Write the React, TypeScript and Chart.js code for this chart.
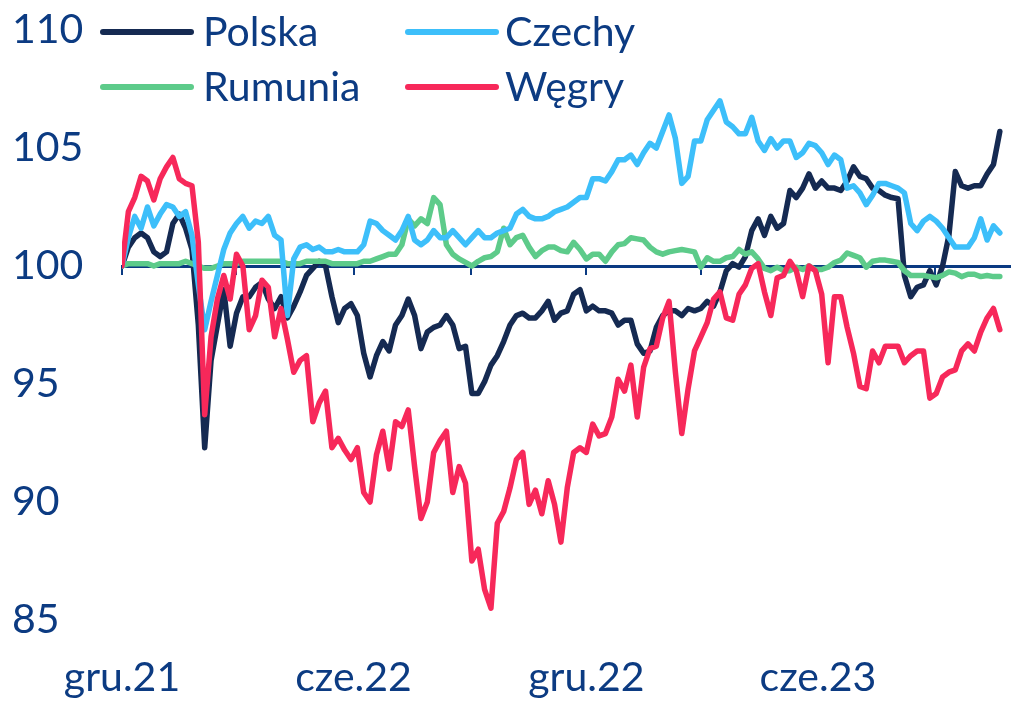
import React, { useEffect, useRef } from 'react';
import { Chart, registerables } from 'chart.js';

Chart.register(...registerables);

// x positions: days since 1 Dec 2021, one value every STEP_DAYS days
const STEP_DAYS = 5;
const X_MAX_DAYS = 698;

const polska = [
  100.0, 100.8, 101.2, 101.4, 101.2, 100.6, 100.4, 100.6, 101.8, 102.2, 101.6, 100.7, 97.5, 92.3, 96.0, 97.5, 99.0, 96.6, 98.0, 98.7, 98.7, 99.1,
  99.3, 98.6, 98.2, 98.7, 97.8, 98.3, 98.9, 99.6, 99.9, 100.2, 100.0, 98.7, 97.6, 98.2, 98.4, 97.9, 96.3, 95.3, 96.2, 96.8, 96.4, 97.5,
  97.9, 98.6, 97.9, 96.5, 97.2, 97.4, 97.5, 97.9, 97.5, 96.5, 96.6, 94.6, 94.6, 95.1, 95.8, 96.2, 96.8, 97.5, 97.9, 98.0, 97.8, 97.8,
  98.1, 98.5, 97.7, 98.0, 98.1, 98.8, 99.0, 98.1, 98.3, 98.1, 98.1, 98.0, 97.5, 97.7, 97.7, 96.7, 96.3, 96.4, 97.4, 97.9, 98.1, 98.1,
  97.9, 98.2, 98.1, 98.2, 98.5, 98.3, 98.9, 99.8, 100.1, 99.95, 100.4, 101.5, 102.0, 101.3, 102.1, 101.6, 101.8, 103.2, 102.9, 103.3, 103.9, 103.3,
  103.6, 103.3, 103.3, 103.2, 103.6, 104.2, 103.8, 103.7, 103.3, 103.2, 103.0, 102.9, 102.85, 99.6, 98.7, 99.1, 99.2, 99.8, 99.2, 100.0, 101.3, 104.0, 103.4, 103.3, 103.4, 103.4, 103.9, 104.3, 105.7,
];

const czechy = [
  100.0, 101.2, 102.1, 101.6, 102.5, 101.7, 102.2, 102.6, 102.5, 102.1, 102.3, 101.3, 99.2, 97.3, 98.5, 99.6, 100.7, 101.4, 101.8, 102.1, 101.6, 101.9,
  101.8, 102.1, 101.3, 101.1, 97.9, 100.3, 100.8, 100.9, 100.7, 100.8, 100.6, 100.6, 100.7, 100.6, 100.6, 100.6, 100.9, 101.9, 101.8, 101.5, 101.3, 101.1,
  101.5, 102.1, 101.1, 100.9, 101.1, 101.5, 101.2, 101.2, 101.5, 101.2, 100.9, 101.2, 101.5, 101.2, 101.2, 101.4, 101.5, 101.6, 102.2, 102.4, 102.1, 102.0,
  102.0, 102.1, 102.3, 102.4, 102.5, 102.7, 102.9, 102.9, 103.7, 103.7, 103.6, 104.0, 104.5, 104.5, 104.7, 104.3, 104.8, 105.2, 105.0, 105.7, 106.4, 105.4,
  103.5, 103.8, 105.3, 105.3, 106.2, 106.6, 107.0, 106.1, 105.9, 105.6, 105.6, 106.3, 105.3, 104.9, 105.4, 105.0, 105.3, 105.3, 104.6, 104.8, 105.2, 105.1,
  104.8, 104.3, 104.7, 104.5, 103.3, 103.4, 103.1, 102.6, 103.0, 103.5, 103.5, 103.4, 103.3, 103.1, 101.8, 101.5, 101.9, 102.1, 101.9, 101.6, 101.2, 100.8, 100.8, 100.8, 101.2, 102.0, 101.1, 101.7, 101.4,
];

const rumunia = [
  100.0, 100.1, 100.1, 100.1, 100.1, 100.0, 100.1, 100.1, 100.1, 100.1, 100.2, 100.1, 100.0, 99.9, 99.9, 100.0, 100.1, 100.1, 100.1, 100.2, 100.2, 100.2,
  100.2, 100.2, 100.2, 100.2, 100.1, 100.1, 100.1, 100.2, 100.2, 100.2, 100.2, 100.1, 100.1, 100.1, 100.1, 100.1, 100.2, 100.2, 100.3, 100.4, 100.5, 100.5,
  100.9, 102.0, 101.7, 102.0, 101.8, 102.9, 102.6, 100.9, 100.5, 100.3, 100.15, 100.0, 100.2, 100.35, 100.4, 100.6, 101.6, 100.9, 101.2, 101.3, 100.8, 100.4,
  100.65, 100.8, 100.8, 100.65, 100.6, 101.0, 100.7, 100.3, 100.5, 100.5, 100.2, 100.6, 100.9, 100.95, 101.2, 101.15, 101.1, 100.8, 100.6, 100.5, 100.6, 100.65,
  100.7, 100.65, 100.6, 99.95, 100.35, 100.2, 100.2, 100.35, 100.4, 100.7, 100.5, 100.6, 100.3, 99.9, 99.8, 99.95, 99.8, 99.8, 99.95, 99.85, 100.0, 99.85,
  99.85, 99.95, 100.15, 100.25, 100.55, 100.45, 100.35, 99.95, 100.2, 100.25, 100.25, 100.2, 100.15, 99.8, 99.6, 99.6, 99.6, 99.55, 99.5, 99.6, 99.75, 99.7, 99.55, 99.65, 99.65, 99.55, 99.6, 99.55, 99.55,
];

const wegry = [
  100.0, 102.3, 102.9, 103.8, 103.6, 102.8, 103.7, 104.2, 104.6, 103.7, 103.5, 103.4, 101.0, 93.7, 97.0, 98.6, 99.6, 98.6, 100.5, 100.0, 97.3, 97.9,
  99.4, 99.1, 97.0, 98.2, 96.9, 95.5, 96.0, 96.2, 93.4, 94.2, 94.7, 92.3, 92.7, 92.2, 91.8, 92.3, 90.4, 90.0, 92.0, 93.0, 91.4, 93.4,
  93.2, 93.9, 91.5, 89.3, 90.0, 92.1, 92.6, 93.0, 90.4, 91.5, 90.8, 87.5, 88.0, 86.3, 85.5, 89.1, 89.6, 90.6, 91.8, 92.1, 89.9, 90.5,
  89.5, 90.9, 89.9, 88.3, 90.6, 92.1, 92.3, 92.1, 93.3, 92.8, 92.9, 93.6, 95.2, 94.7, 95.8, 93.6, 95.7, 96.5, 96.6, 97.8, 98.5, 95.5,
  92.9, 94.8, 96.4, 97.0, 97.6, 98.6, 98.9, 97.8, 97.7, 98.8, 99.2, 99.9, 100.1, 98.9, 97.9, 99.5, 99.6, 100.2, 99.8, 98.7, 100.0, 99.8,
  98.8, 95.9, 98.7, 98.7, 97.4, 96.3, 94.9, 94.8, 96.4, 95.9, 96.6, 96.6, 96.6, 95.9, 96.2, 96.4, 96.4, 94.4, 94.6, 95.3, 95.5, 95.6, 96.4, 96.7, 96.4, 97.2, 97.8, 98.2, 97.3,
];

const SERIES_NAMES = ['Polska', 'Czechy', 'Rumunia', 'Węgry'];
const SERIES_COLORS = ['#152A52', '#3DBFFA', '#5DCB8A', '#F7285A'];
// drawing layer (lower = on top): Węgry top, then Czechy, Rumunia, Polska bottom
const SERIES_ORDER = [4, 2, 3, 1];

const MINOR_TICK_DAYS = [0, 90, 182, 274, 365, 455, 547, 639];
const LABEL_TICK_DAYS = [0, 182, 365, 547];
const X_LABELS = ['gru.21', 'cze.22', 'gru.22', 'cze.23'];
const Y_TICKS = [85, 90, 95, 100, 105, 110];

const TEXT_COLOR = '#0C3B82';
const AXIS_COLOR = '#0A3A82';
const FONT_FAMILY = 'Lato';
const FONT_SIZE = 41;

const toPoints = (vals: number[]) => vals.map((v, i) => ({ x: i * STEP_DAYS, y: v }));

export default function App() {
  const canvasRef = useRef<HTMLCanvasElement | null>(null);

  useEffect(() => {
    if (!canvasRef.current) return;
    const allSeries = [polska, czechy, rumunia, wegry];
    const font = { family: FONT_FAMILY, size: FONT_SIZE };
    const chart = new Chart(canvasRef.current, {
      type: 'line',
      data: {
        datasets: allSeries.map((vals, k) => ({
          label: SERIES_NAMES[k],
          data: toPoints(vals),
          borderColor: SERIES_COLORS[k],
          backgroundColor: SERIES_COLORS[k],
          borderWidth: 5.5,
          pointRadius: 0,
          tension: 0,
          borderJoinStyle: 'round' as const,
          borderCapStyle: 'round' as const,
          order: SERIES_ORDER[k],
          xAxisID: 'x',
          yAxisID: 'y',
        })),
      },
      options: {
        animation: false,
        responsive: false,
        devicePixelRatio: 1,
        layout: { padding: { left: 12, top: 30, right: 3, bottom: 0 } },
        plugins: { legend: { display: false }, tooltip: { enabled: false } },
        scales: {
          x: {
            type: 'linear',
            position: 'bottom',
            min: 0,
            max: X_MAX_DAYS,
            grid: { display: false, drawTicks: false },
            border: { display: false },
            afterBuildTicks: (s: any) => {
              s.ticks = LABEL_TICK_DAYS.map((v) => ({ value: v }));
            },
            ticks: {
              autoSkip: false,
              maxRotation: 0,
              padding: 33,
              color: TEXT_COLOR,
              font,
              callback: (v: any) => {
                const idx = LABEL_TICK_DAYS.indexOf(Number(v));
                return idx >= 0 ? X_LABELS[idx] : '';
              },
            },
            afterFit: (s: any) => {
              s.height = 95;
            },
          },
          xAxis100: {
            type: 'linear',
            position: { y: 100 } as any,
            min: 0,
            max: X_MAX_DAYS,
            grid: {
              display: true,
              drawOnChartArea: false,
              drawTicks: true,
              tickLength: 7,
              color: AXIS_COLOR,
              lineWidth: 2,
            },
            border: { display: true, color: AXIS_COLOR, width: 3 },
            ticks: { display: false },
            afterBuildTicks: (s: any) => {
              s.ticks = MINOR_TICK_DAYS.map((v) => ({ value: v }));
            },
          },
          y: {
            type: 'linear',
            position: 'left',
            min: 85,
            max: 110,
            grid: { display: false, drawTicks: false },
            border: { display: false },
            afterBuildTicks: (s: any) => {
              s.ticks = Y_TICKS.map((v) => ({ value: v }));
            },
            ticks: { crossAlign: 'far', padding: 0, color: TEXT_COLOR, font },
            afterFit: (s: any) => {
              s.width = 110;
            },
          },
        },
      } as any,
    });
    return () => chart.destroy();
  }, []);

  const legendRows = [
    { idx: 0, lineLeft: 100, textLeft: 203, cy: 32 },
    { idx: 1, lineLeft: 405, textLeft: 505, cy: 32 },
    { idx: 2, lineLeft: 100, textLeft: 203, cy: 87 },
    { idx: 3, lineLeft: 405, textLeft: 505, cy: 87 },
  ];

  return (
    <div style={{ position: 'fixed', left: 0, top: 0, width: 1013, height: 715, background: '#fff' }}>
      <canvas ref={canvasRef} width={1013} height={715} style={{ width: 1013, height: 715, display: 'block' }} />
      {legendRows.map((r) => (
        <React.Fragment key={r.idx}>
          <div
            style={{
              position: 'absolute',
              left: r.lineLeft,
              top: r.cy - 3,
              width: 94,
              height: 6,
              borderRadius: 3,
              background: SERIES_COLORS[r.idx],
            }}
          />
          <div
            style={{
              position: 'absolute',
              left: r.textLeft,
              top: r.cy + 14 - 40.5,
              fontFamily: FONT_FAMILY,
              fontSize: FONT_SIZE,
              lineHeight: '49px',
              color: TEXT_COLOR,
              whiteSpace: 'nowrap',
            }}
          >
            {SERIES_NAMES[r.idx]}
          </div>
        </React.Fragment>
      ))}
    </div>
  );
}
